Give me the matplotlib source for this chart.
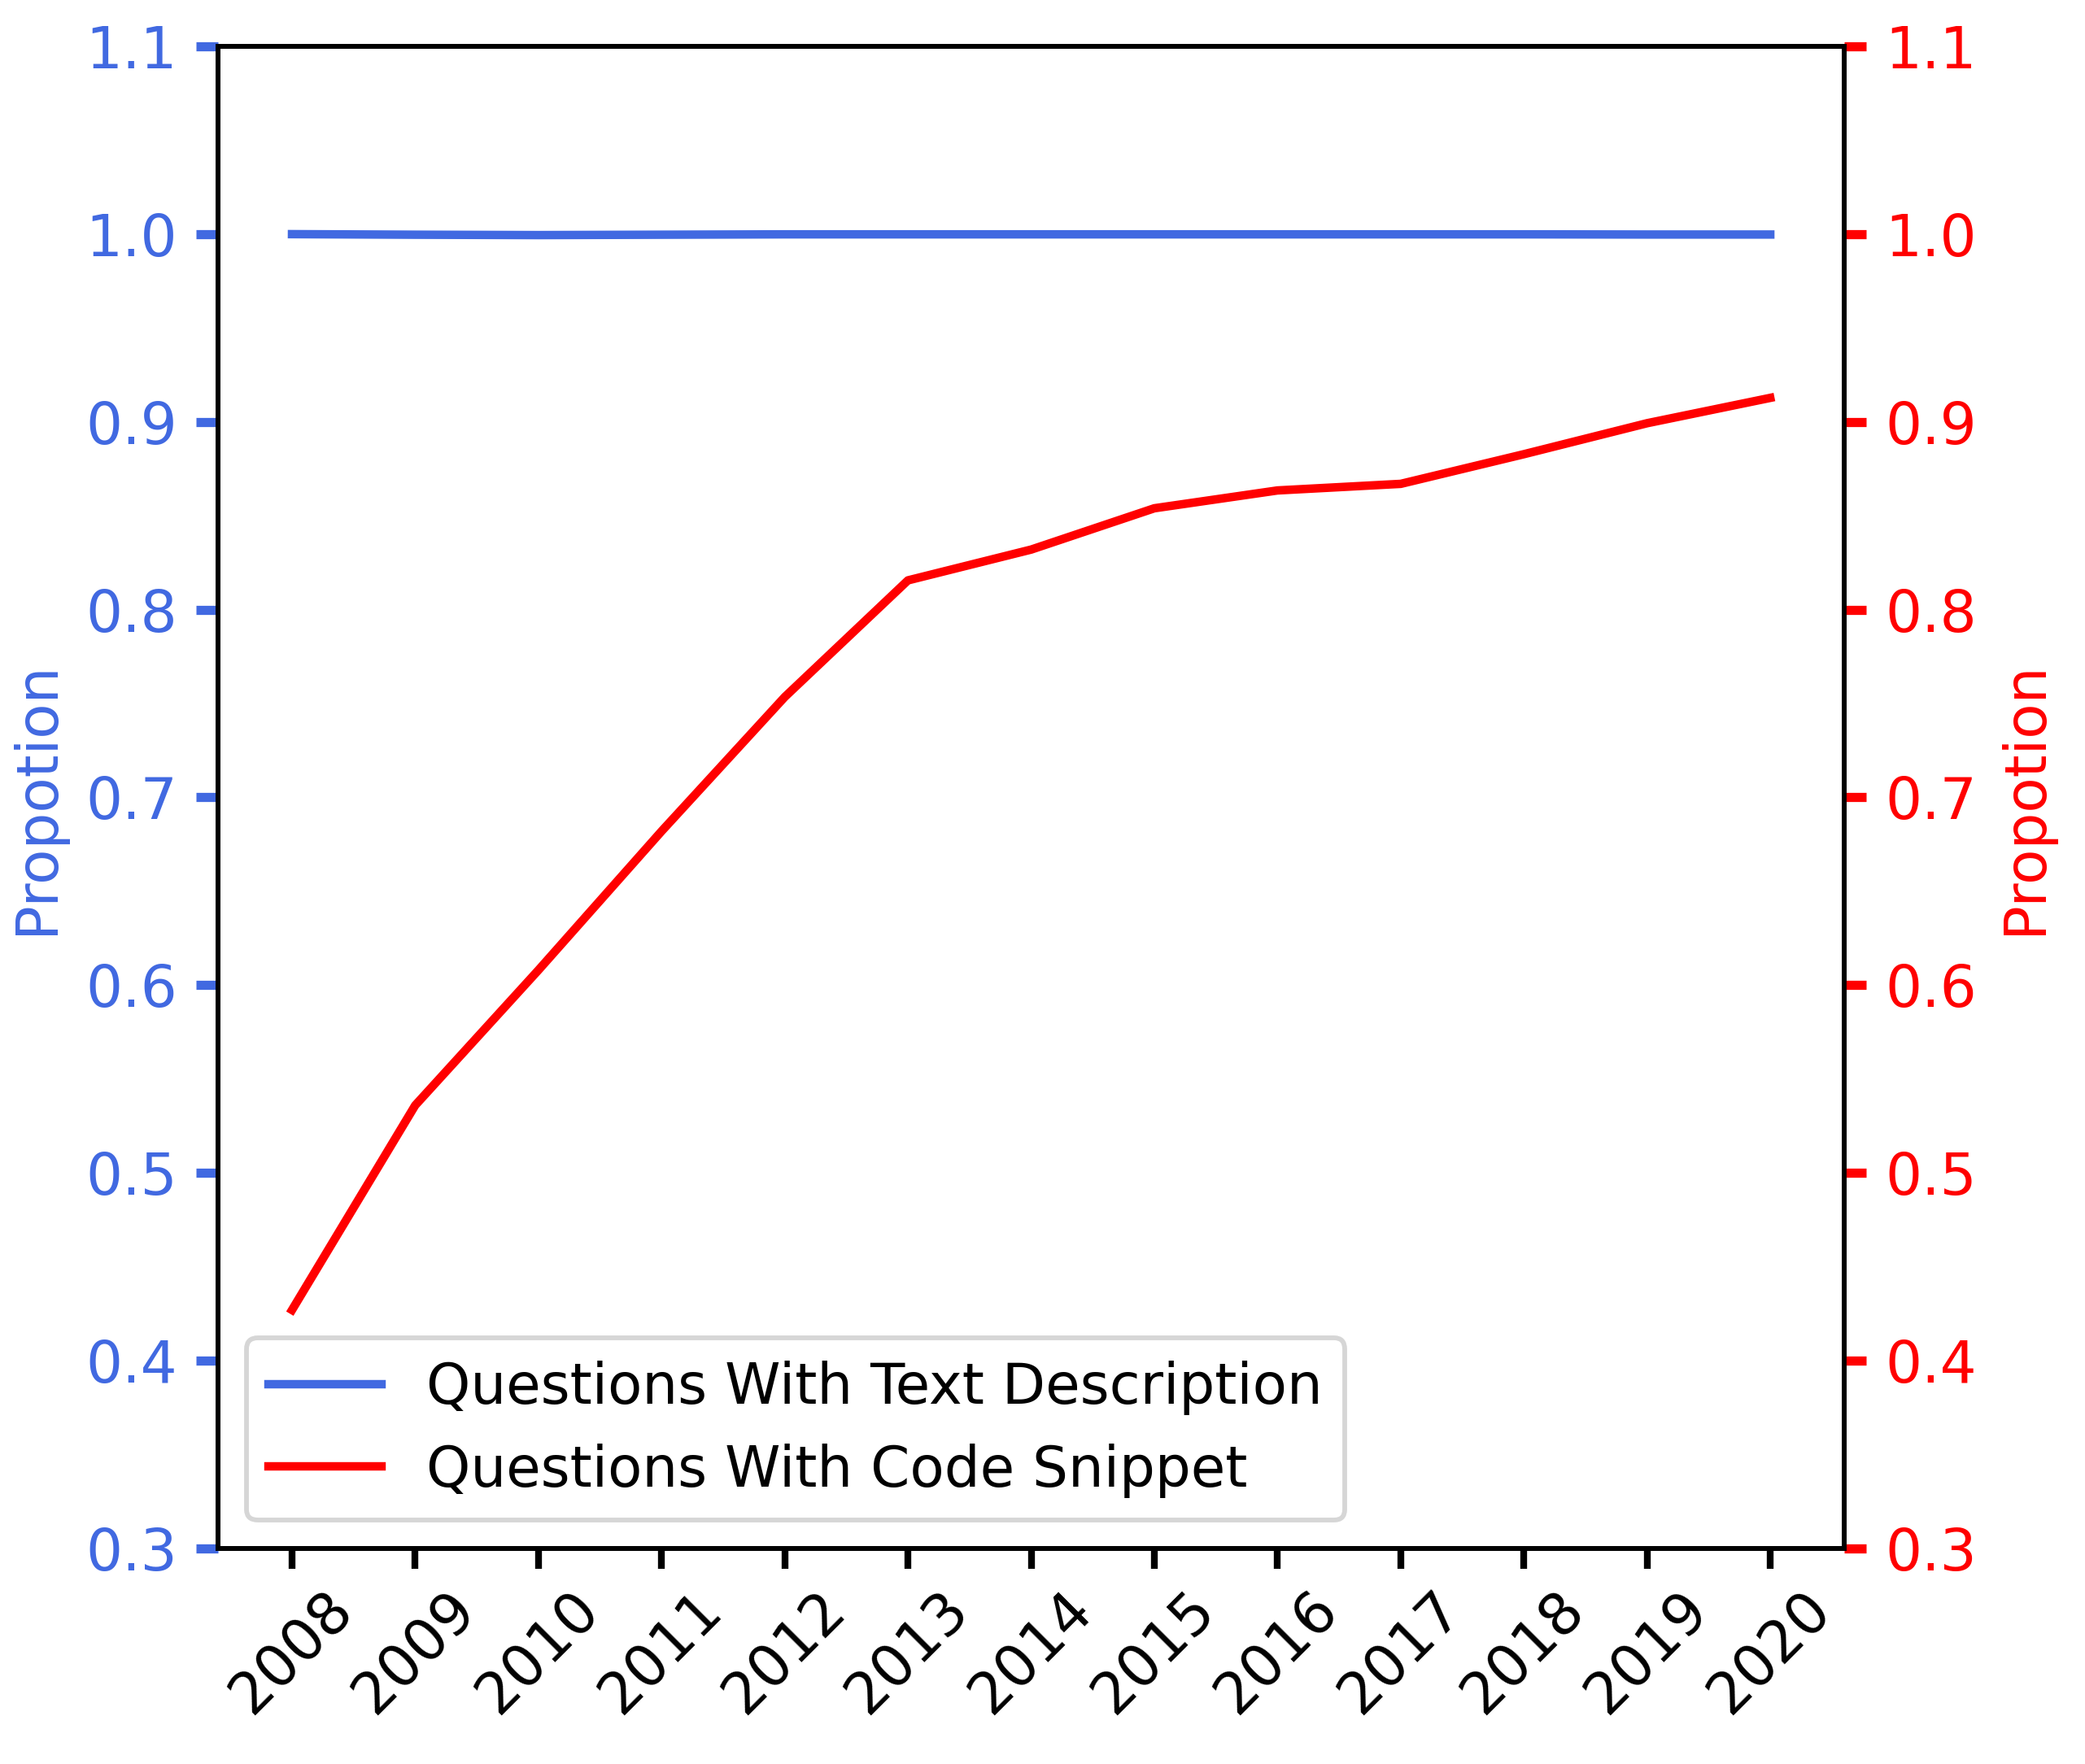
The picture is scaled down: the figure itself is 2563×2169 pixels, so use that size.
import matplotlib
matplotlib.use("Agg")
import matplotlib.pyplot as plt

years = [2008, 2009, 2010, 2011, 2012, 2013, 2014, 2015, 2016, 2017, 2018, 2019, 2020]
text_desc = [1.0, 0.9997, 0.9995, 0.9997, 0.9999, 0.9999, 0.9999, 0.9999, 0.9999, 0.9999, 0.9999, 0.9998, 0.9998]
code_snip = [0.427, 0.536, 0.608, 0.682, 0.7535, 0.8156, 0.832, 0.854, 0.8635, 0.867, 0.8828, 0.8993, 0.9128]
yticks = [0.3, 0.4, 0.5, 0.6, 0.7, 0.8, 0.9, 1.0, 1.1]

BLUE = "#4169E1"
RED = "#FF0000"
FS = 17

plt.rcParams['font.family'] = ['DejaVu Sans']
fig = plt.figure(figsize=(2563 / 300, 2169 / 300), dpi=300)
ax = fig.add_axes([0.1046, 0.1222, 0.7799, 0.8515])
ax2 = ax.twinx()

l1, = ax.plot(years, text_desc, color=BLUE, lw=2.5, label="Questions With Text Description")
l2, = ax2.plot(years, code_snip, color=RED, lw=2.5, label="Questions With Code Snippet")

for a in (ax, ax2):
    a.set_ylim(0.3, 1.1)
    a.set_yticks(yticks)
    for s in a.spines.values():
        s.set_linewidth(1.4)
        s.set_color("black")

ax.set_xticks(years)
ax.set_xticklabels([str(y) for y in years], rotation=45, fontsize=FS)
ax.tick_params(axis='x', length=6, width=2.0, colors='black')
ax.tick_params(axis='y', length=6.5, width=2.7, colors=BLUE, labelsize=FS, pad=5.5)
ax2.tick_params(axis='y', length=6.5, width=2.7, colors=RED, labelsize=FS, pad=5.5)
ax.set_yticklabels([f"{v:.1f}" for v in yticks])
ax2.set_yticklabels([f"{v:.1f}" for v in yticks])

ax.set_ylabel("Propotion", color=BLUE, fontsize=FS, labelpad=6)
ax2.set_ylabel("Propotion", color=RED, fontsize=FS, labelpad=6)

leg = ax2.legend(handles=[l1, l2], loc="lower left", fontsize=16.6, fancybox=True)
leg.get_frame().set_linewidth(1.4)

fig.savefig("out.png", dpi=300)
